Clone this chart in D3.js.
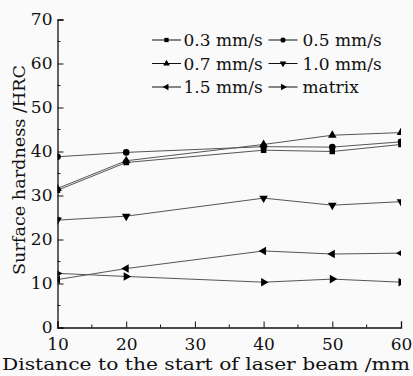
<!DOCTYPE html>
<html>
<head>
<meta charset="utf-8">
<script src="https://cdn.jsdelivr.net/npm/d3@7"></script>
<style>
  body { margin: 0; background: #fafafa; }
  svg { display: block; }
  text { font-family: "DejaVu Serif", "Liberation Serif", serif; fill: #111; }
</style>
</head>
<body>
<svg id="chart" width="413" height="376"></svg>
<script>
const width = 413;
const height = 376;

// data
const distances = [10, 20, 40, 50, 60];
const speeds = ["0.3 mm/s", "0.5 mm/s", "0.7 mm/s", "1.0 mm/s", "1.5 mm/s", "matrix"];
const v03 = [31.2, 37.5, 40.3, 40.0, 41.6];
const v05 = [38.8, 39.8, 41.1, 41.0, 42.2];
const v07 = [31.6, 37.9, 41.6, 43.7, 44.3];
const v10 = [24.4, 25.3, 29.4, 27.8, 28.6];
const v15 = [10.9, 13.4, 17.4, 16.7, 16.9];
const vMatrix = [12.3, 11.6, 10.3, 11.0, 10.3];
const xTicks = [10, 20, 30, 40, 50, 60];
const yTicks = [0, 10, 20, 30, 40, 50, 60, 70];

const seriesValues = [v03, v05, v07, v10, v15, vMatrix];

const margin = {top: 19.5, right: 12, bottom: 48.5, left: 57.5};

const x = d3.scaleLinear().domain([10, 60]).range([margin.left, width - margin.right]);
const y = d3.scaleLinear().domain([0, 70]).range([height - margin.bottom, margin.top]);

const svg = d3.select("#chart");

// marker shapes: square, circle, up, down, left, right
const shapes = [
  {type: d3.symbolSquare, rot: 0, size: 30},
  {type: d3.symbolCircle, rot: 0, size: 34},
  {type: d3.symbolTriangle, rot: 0, size: 32},
  {type: d3.symbolTriangle, rot: 180, size: 32},
  {type: d3.symbolTriangle, rot: -90, size: 32},
  {type: d3.symbolTriangle, rot: 90, size: 32}
];

svg.append("defs").append("clipPath").attr("id", "plotclip")
  .append("rect")
  .attr("x", margin.left).attr("y", margin.top)
  .attr("width", width - margin.left - margin.right)
  .attr("height", height - margin.top - margin.bottom);

const plot = svg.append("g").attr("clip-path", "url(#plotclip)");

const line = d3.line().x((d, i) => x(distances[i])).y(d => y(d));

seriesValues.forEach((vals, k) => {
  plot.append("path")
    .datum(vals)
    .attr("fill", "none")
    .attr("stroke", "#555")
    .attr("stroke-width", 1)
    .attr("d", line);
});

seriesValues.forEach((vals, k) => {
  const sh = shapes[k];
  plot.selectAll(null)
    .data(vals)
    .enter()
    .append("path")
    .attr("d", d3.symbol().type(sh.type).size(sh.size))
    .attr("transform", (d, i) => `translate(${x(distances[i])},${y(d)}) rotate(${sh.rot})`)
    .attr("fill", "#000");
});

// axes: ticks point inward
const xAxis = d3.axisBottom(x).tickValues(xTicks).tickSize(-6).tickPadding(10).tickFormat(d3.format("d"));
const gx = svg.append("g")
  .attr("transform", `translate(0,${height - margin.bottom})`)
  .call(xAxis);
gx.selectAll(".tick line").attr("stroke", "#111");

const yAxis = d3.axisLeft(y).tickValues(yTicks).tickSize(-6).tickPadding(5).tickFormat(d3.format("d"));
const gy = svg.append("g")
  .attr("transform", `translate(${margin.left},0)`)
  .call(yAxis);
gy.selectAll(".tick line").attr("stroke", "#111");

[gx, gy].forEach(g => {
  g.select(".domain").attr("stroke", "#111").attr("stroke-width", 1.3);
  g.selectAll(".tick text").style("font-size", "17px").attr("fill", "#111");
});

// minor ticks
svg.append("g").selectAll("line")
  .data(d3.range(15, 60, 10))
  .enter().append("line")
  .attr("x1", d => x(d)).attr("x2", d => x(d))
  .attr("y1", height - margin.bottom).attr("y2", height - margin.bottom - 3)
  .attr("stroke", "#111");
svg.append("g").selectAll("line")
  .data(d3.range(5, 70, 10))
  .enter().append("line")
  .attr("x1", margin.left).attr("x2", margin.left + 3)
  .attr("y1", d => y(d)).attr("y2", d => y(d))
  .attr("stroke", "#111");

// axis titles
svg.append("text")
  .attr("x", 2)
  .attr("y", 370)
  .attr("textLength", 408)
  .attr("lengthAdjust", "spacingAndGlyphs")
  .style("font-size", "17px")
  .text("Distance to the start of laser beam /mm");

svg.append("text")
  .attr("transform", `translate(25,275) rotate(-90)`)
  .attr("textLength", 210)
  .attr("lengthAdjust", "spacingAndGlyphs")
  .style("font-size", "17px")
  .text("Surface hardness /HRC");

// legend
const legend = svg.append("g");
speeds.forEach((name, k) => {
  const col = k % 2, row = Math.floor(k / 2);
  const lx = 152 + col * 116.5;
  const ly = 40 + row * 23.5;
  const g = legend.append("g").attr("transform", `translate(${lx},${ly})`);
  g.append("line").attr("x1", 0).attr("x2", 29).attr("y1", 0).attr("y2", 0)
    .attr("stroke", "#111");
  const sh = shapes[k];
  g.append("path")
    .attr("d", d3.symbol().type(sh.type).size(sh.size * 0.6))
    .attr("transform", `translate(14.5,0) rotate(${sh.rot})`)
    .attr("fill", "#000");
  g.append("text")
    .attr("x", col === 0 ? 31.5 : 34)
    .attr("y", 6)
    .style("font-size", "17px")
    .text(name);
});
</script>
</body>
</html>
